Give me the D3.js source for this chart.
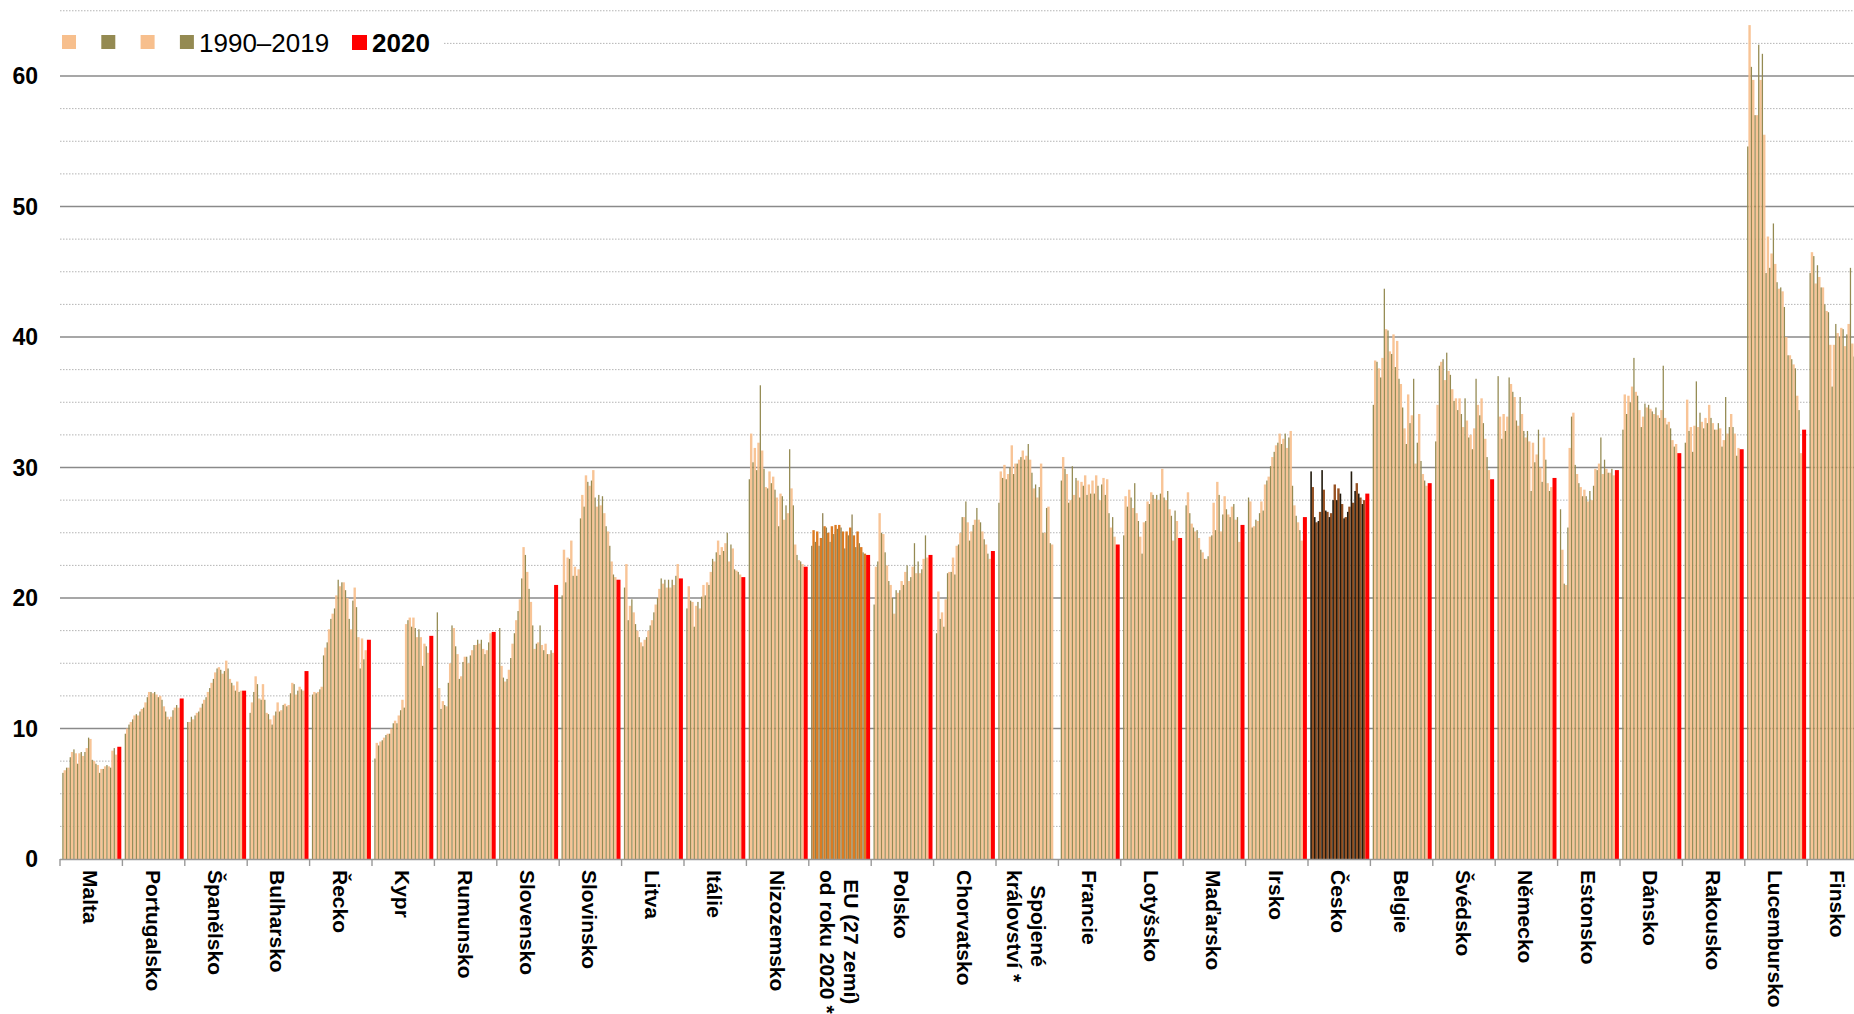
<!DOCTYPE html>
<html>
<head>
<meta charset="utf-8">
<script src="https://cdn.jsdelivr.net/npm/d3@7"></script>
<style>
  body { margin: 0; background: #fff; }
  svg { display: block; }
  text { font-family: "Liberation Sans", Arial, sans-serif; }
</style>
</head>
<body>
<svg width="1854" height="1014"></svg>
<script>
// categories (sorted by 2020 value)
const countries = ['Malta', 'Portugalsko', 'Španělsko', 'Bulharsko', 'Řecko', 'Kypr', 'Rumunsko',
  'Slovensko', 'Slovinsko', 'Litva', 'Itálie', 'Nizozemsko', 'EU (27 zemí)|od roku 2020 *', 'Polsko',
  'Chorvatsko', 'Spojené|království *', 'Francie', 'Lotyšsko', 'Maďarsko', 'Irsko', 'Česko', 'Belgie',
  'Švédsko', 'Německo', 'Estonsko', 'Dánsko', 'Rakousko', 'Lucembursko', 'Finsko'];

const years = d3.range(1990, 2020);

// 1990–2019, one row per country
const values = [
  [6.6,6.8,7.0,7.0,7.8,8.2,8.4,8.1,7.3,8.1, 8.2,7.9,8.2,8.5,9.3,9.2,7.6,7.5,7.3,7.2, 6.6,6.9,6.9,7.1,7.2,7.1,7.0,8.3,8.5,8.0],
  [9.6,10.0,10.3,10.5,10.7,11.0,11.1,11.0,11.3,11.5, 11.6,12.0,12.4,12.8,12.8,12.7,12.8,12.6,12.4,12.5, 12.2,11.7,11.3,10.9,10.7,10.9,11.4,11.6,11.8,11.6],
  [10.5,10.5,10.9,10.7,11.0,11.2,11.3,11.6,11.9,12.2, 12.4,12.8,13.1,13.5,13.8,14.3,14.6,14.7,14.5,14.2, 14.4,15.2,14.6,13.8,13.5,13.3,12.9,13.6,12.8,12.9],
  [11.2,12.0,12.8,14.0,13.4,12.3,12.2,13.4,12.2,11.2, 11.1,10.7,10.3,11.0,11.3,12.0,11.3,11.4,11.8,11.9, 11.7,11.8,12.7,13.5,13.4,12.6,12.9,13.2,13.0,12.9],
  [12.6,12.8,12.7,12.8,13.0,13.2,15.6,16.2,16.6,17.6, 18.4,18.8,19.2,20.2,21.4,20.9,21.2,21.2,20.6,20.0, 18.4,17.6,19.8,20.8,19.3,17.0,14.6,16.9,15.3,16.0],
  [7.7,8.9,8.7,9.0,9.1,9.3,9.5,9.6,9.6,10.0, 10.4,10.6,10.4,11.0,11.4,12.2,11.6,18.0,18.3,18.5, 17.8,18.5,17.7,17.0,17.6,17.0,14.8,16.5,16.3,15.8],
  [18.9,13.1,11.5,12.1,11.8,11.7,13.5,15.0,17.9,17.7, 16.3,15.7,13.8,14.0,15.1,15.5,15.5,15.0,15.6,16.0, 16.4,16.4,16.8,16.5,16.8,16.1,15.7,16.0,16.6,17.3],
  [17.7,14.8,13.9,13.6,13.8,14.5,15.4,16.5,17.3,18.3, 19.0,19.9,21.5,23.9,23.3,22.0,20.7,19.7,17.9,16.1, 16.5,16.6,17.9,16.4,16.0,16.5,15.7,15.7,16.0,15.8],
  [20.2,23.7,21.2,23.1,23.0,24.4,21.7,22.4,21.7,22.2, 26.1,27.9,27.0,29.4,28.9,28.6,29.0,29.8,27.7,27.0, 27.9,27.1,27.8,26.5,25.5,25.1,24.0,22.8,21.8,21.6],
  [20.8,22.6,18.3,19.4,19.9,18.9,18.0,17.5,17.0,16.6, 16.3,16.8,17.0,17.5,17.9,18.3,18.9,19.5,20.0,20.7, 21.5,21.1,21.4,20.8,21.4,20.8,21.4,21.0,21.7,22.6],
  [19.2,20.9,19.8,19.7,17.8,19.4,19.7,19.2,20.1,21.0, 20.2,21.2,21.0,22.0,23.0,22.8,23.5,24.4,23.3,23.9, 23.6,24.2,25.0,22.8,24.1,23.8,22.2,22.1,22.0,21.8],
  [29.1,32.6,30.4,31.5,29.8,31.9,36.3,31.3,29.9,28.5, 28.4,29.7,28.8,29.3,28.3,27.7,25.5,28.0,27.8,26.0, 27.1,26.5,31.4,28.4,27.1,24.1,23.3,22.9,22.8,22.6],
  [24.0,25.2,24.3,25.1,24.0,24.6,26.5,25.5,25.4,25.0, 24.3,25.5,24.9,25.6,25.3,25.6,25.4,25.1,23.8,25.1, 24.8,25.4,26.4,24.8,23.9,25.1,24.2,23.9,23.5,23.4],
  [19.5,22.4,22.8,26.5,25.0,24.9,23.5,22.5,21.3,21.0, 20.0,18.8,20.6,20.4,20.6,21.3,21.0,22.0,22.5,21.3, 21.6,22.4,24.2,21.9,22.8,21.9,22.2,23.0,24.8,23.1],
  [17.3,20.5,18.4,18.9,17.8,19.9,21.9,22.0,22.0,23.1, 21.8,24.0,24.1,25.0,26.2,26.2,27.4,25.8,24.4,25.1, 25.6,26.0,26.9,26.0,25.8,25.1,24.5,24.1,23.4,23.0],
  [27.3,29.7,29.2,30.2,29.1,29.5,30.0,31.7,29.5,30.3, 30.3,30.6,30.8,31.3,30.6,30.9,31.8,30.6,29.6,28.4, 28.7,27.7,28.5,30.3,25.0,25.0,26.9,27.0,24.2,24.1],
  [29.0,30.8,29.9,29.5,27.3,27.5,30.1,27.9,29.2,29.0, 27.7,28.9,28.6,29.4,27.9,28.7,28.0,29.0,28.0,29.4, 28.6,27.5,28.7,29.2,27.9,29.1,26.5,25.4,26.2,24.7],
  [24.8,27.8,27.0,28.3,27.7,26.9,28.8,26.5,25.9,24.7, 23.4,25.8,25.9,27.4,27.2,28.1,27.9,27.6,27.9,27.5, 28.0,29.9,27.7,27.5,28.2,26.8,26.3,24.4,26.7,25.9],
  [27.1,28.1,26.5,25.7,25.4,25.1,25.2,24.6,23.7,23.5, 23.0,23.0,23.2,24.7,24.8,27.3,25.2,28.9,27.9,25.1, 26.4,27.8,26.8,26.4,26.2,27.0,27.2,26.0,26.2,24.3],
  [27.7,27.4,25.4,25.5,26.0,25.9,26.5,27.4,26.7,28.7, 29.0,29.3,30.1,30.8,31.2,31.7,31.9,32.6,31.8,32.2, 32.6,31.5,32.3,32.8,28.6,27.1,26.3,25.8,25.2,24.4],
  [29.7,28.5,26.2,25.8,25.9,26.6,29.8,28.3,26.7,26.6, 26.2,26.5,27.5,28.7,27.5,28.4,28.0,27.2,26.1,26.2, 26.6,27.0,29.7,27.3,28.2,28.8,28.0,27.7,27.2,27.5],
  [34.8,38.2,38.1,37.6,36.9,38.4,43.7,40.6,40.5,38.9, 38.7,40.2,37.7,39.7,36.8,36.4,34.6,33.0,31.8,35.6, 33.4,34.0,36.8,30.3,31.9,34.1,30.5,29.5,29.0,28.6],
  [32.0,34.8,37.8,38.1,38.3,36.7,38.8,37.4,37.1,36.0, 35.1,35.3,34.4,35.3,34.1,33.1,35.3,33.6,32.3,32.5, 31.4,33.0,36.8,34.8,34.0,35.3,33.4,32.2,30.8,29.8],
  [37.0,33.9,32.2,34.1,32.8,33.9,36.9,36.4,35.8,35.4, 33.6,33.2,35.4,34.1,32.8,32.3,32.8,32.0,28.2,31.9, 30.4,31.0,32.9,30.0,28.9,32.3,30.6,28.8,28.2,28.5],
  [26.8,23.7,21.1,21.0,25.4,31.5,33.9,34.2,30.2,29.5, 28.8,28.5,27.8,28.3,27.8,27.4,28.2,27.5,28.6,29.9, 29.8,30.3,32.3,29.5,30.6,29.9,29.6,29.6,29.9,29.4],
  [32.9,35.6,34.1,35.5,35.0,36.2,38.4,35.8,35.5,34.4, 33.1,33.9,34.9,34.6,34.8,34.5,34.3,34.1,34.6,34.0, 33.8,34.4,37.8,33.8,33.3,33.5,33.0,32.1,31.6,31.8],
  [31.9,35.2,32.8,33.1,31.2,33.2,36.6,33.1,34.2,33.5, 33.0,33.8,33.4,34.8,33.8,33.4,32.9,32.9,33.4,33.0, 31.6,32.1,35.4,32.6,33.1,34.1,33.1,32.6,30.9,31.5],
  [54.6,63.9,60.7,59.7,57.0,57.0,62.4,59.7,61.7,55.5, 44.9,47.7,45.3,46.4,48.7,45.6,44.2,43.7,43.8,43.5, 42.3,40.0,38.6,38.6,38.3,37.9,37.6,35.5,34.4,31.1],
  [44.9,46.5,46.2,44.1,45.5,44.6,43.8,43.8,42.5,42.0, 41.9,39.4,36.2,39.4,41.0,40.3,40.0,40.7,40.6,39.3, 40.2,41.0,45.3,39.5,38.5,38.0,37.2,36.8,36.0,35.2]
];

// 2020 (no value for the UK)
const values2020 = [8.6, 12.3, 12.9, 14.4, 16.8, 17.1, 17.4, 21.0, 21.4, 21.5, 21.6, 22.4, 23.3, 23.3,
  23.6, null, 24.1, 24.6, 25.6, 26.2, 28.0, 28.8, 29.1, 29.2, 29.8, 31.1, 31.4, 32.9, 34.0];

const yTickValues = [0, 10, 20, 30, 40, 50, 60];

const svg = d3.select('svg');
const width = +svg.attr('width');

const groupW = 62.4;
const x0 = 60;
const xScale = d3.scaleBand()
  .domain(countries)
  .range([x0, x0 + groupW * countries.length]);
const yearScale = d3.scaleBand()
  .domain(years)
  .range([2.3, 57.3]);
const yScale = d3.scaleLinear()
  .domain([0, 60])
  .range([859, 76]);

// colours: [even years, odd years, width of the dark bars]
const colorsFor = name => {
  if (name.startsWith('EU')) return ['#8f8150', '#d9700f', 1.27];
  if (name === 'Česko') return ['#221a0e', '#8e4310', 1.6];
  return ['#948a52', '#f7bf8d', 1.27];
};

// grid
const grid = svg.append('g');
const minor = d3.range(2.5, 65.1, 2.5).filter(v => v % 10 !== 0);
grid.selectAll('line.minor').data(minor).enter().append('line')
  .attr('x1', x0).attr('x2', width)
  .attr('y1', d => yScale(d)).attr('y2', d => yScale(d))
  .attr('stroke', '#b4b4b4').attr('stroke-width', 1)
  .attr('stroke-dasharray', '1.5,1.5');
grid.selectAll('line.major').data(yTickValues.filter(v => v > 0)).enter().append('line')
  .attr('x1', x0).attr('x2', width)
  .attr('y1', d => yScale(d)).attr('y2', d => yScale(d))
  .attr('stroke', '#8a8a8a').attr('stroke-width', 1.6);

// bars
const g = svg.append('g');
countries.forEach((c, ci) => {
  const gx = xScale(c);
  const cols = colorsFor(c);
  const rows = years.map((yr, j) => ({yr, j, v: values[ci][j]})).filter(d => d.v != null);
  // wide light bars first, thin dark bars on top
  g.selectAll(null).data(rows.filter(d => d.j % 2 === 1)).enter().append('rect')
    .attr('x', d => gx + yearScale(d.yr) - 0.56)
    .attr('width', 2.4)
    .attr('y', d => yScale(d.v))
    .attr('height', d => yScale(0) - yScale(d.v))
    .attr('fill', cols[1])
    .attr('fill-opacity', 0.92);
  g.selectAll(null).data(rows.filter(d => d.j % 2 === 0)).enter().append('rect')
    .attr('x', d => gx + yearScale(d.yr))
    .attr('width', cols[2])
    .attr('y', d => yScale(d.v))
    .attr('height', d => yScale(0) - yScale(d.v))
    .attr('fill', cols[0]);
  if (values2020[ci] != null) {
    g.append('rect')
      .attr('x', gx + yearScale.range()[1])
      .attr('width', 4)
      .attr('y', yScale(values2020[ci]))
      .attr('height', yScale(0) - yScale(values2020[ci]))
      .attr('fill', '#ff0000');
  }
});

// x axis
const axis = svg.append('g');
axis.append('line')
  .attr('x1', x0).attr('x2', width)
  .attr('y1', yScale(0) + 0.5).attr('y2', yScale(0) + 0.5)
  .attr('stroke', '#999').attr('stroke-width', 1.6);
axis.selectAll('line.tick').data(d3.range(countries.length + 1)).enter().append('line')
  .attr('x1', i => x0 + i * groupW).attr('x2', i => x0 + i * groupW)
  .attr('y1', yScale(0)).attr('y2', yScale(0) + 7)
  .attr('stroke', '#999').attr('stroke-width', 1.4);

// y labels
svg.append('g').selectAll('text').data(yTickValues).enter().append('text')
  .attr('x', 38).attr('y', d => yScale(d)).attr('dy', '0.36em')
  .attr('text-anchor', 'end')
  .attr('font-size', 23).attr('font-weight', 'bold')
  .text(d => d);

// category labels, rotated
const labels = svg.append('g');
countries.forEach(c => {
  const lines = c.split('|');
  const cx = xScale(c) + groupW / 2;
  const texts = lines.map((ln, k) => {
    const bx = cx - 8 + (lines.length - 1) * 12 - k * 24;
    return labels.append('text')
      .attr('transform', `translate(${bx},870) rotate(90)`)
      .attr('font-size', 21).attr('font-weight', 'bold')
      .text(ln);
  });
  const widths = texts.map(t => t.node().getComputedTextLength());
  const maxW = d3.max(widths);
  texts.forEach((t, k) => t.attr('x', (maxW - widths[k]) / 2));
});

// legend
const legend = svg.append('g');
legend.append('rect').attr('x', 52).attr('y', 26).attr('width', 392).attr('height', 34).attr('fill', '#fff');
const legendSwatches = ['#f7bf8d', '#948a52', '#f7bf8d', '#948a52'];
legend.selectAll('rect.sw').data(legendSwatches).enter().append('rect')
  .attr('x', (d, i) => 62 + i * 39.3).attr('y', 35)
  .attr('width', 14).attr('height', 14)
  .attr('fill', d => d);
legend.append('text').attr('x', 199).attr('y', 52)
  .attr('font-size', 26).text('1990–2019');
legend.append('rect').attr('x', 352).attr('y', 35).attr('width', 15).attr('height', 15).attr('fill', '#ff0000');
legend.append('text').attr('x', 372).attr('y', 52)
  .attr('font-size', 26).attr('font-weight', 'bold').text('2020');
</script>
</body>
</html>
